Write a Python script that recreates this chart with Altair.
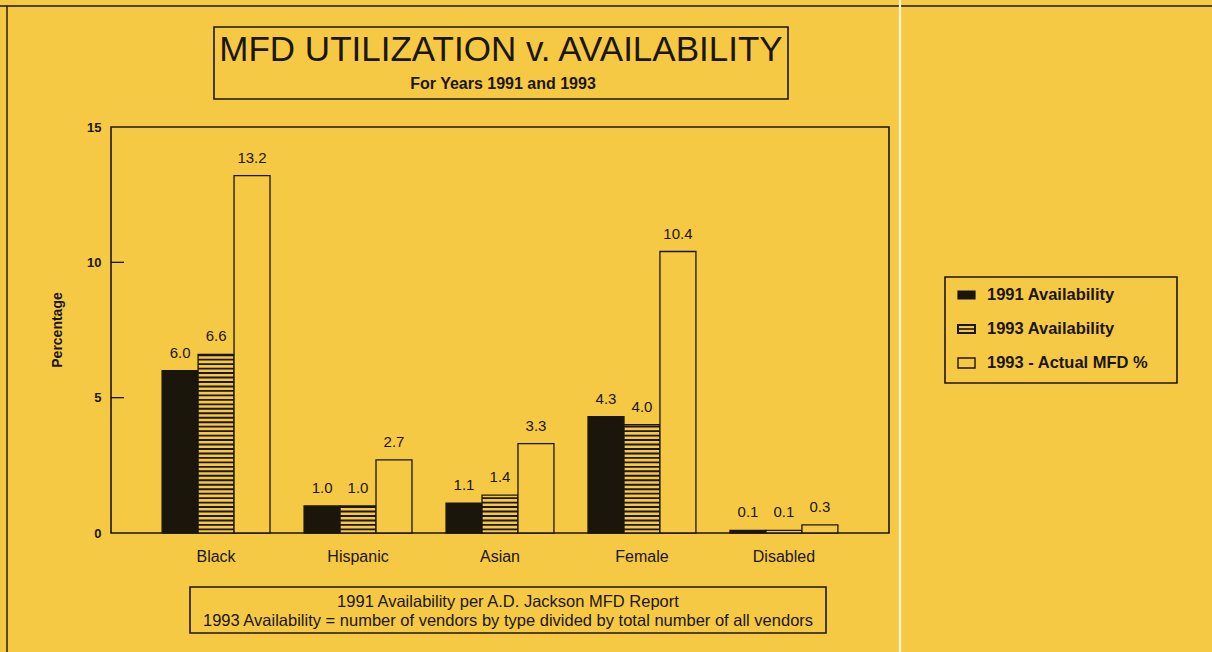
import altair as alt
import numpy as np
import pandas as pd

# --- data -------------------------------------------------------------
categories = ["Black", "Hispanic", "Asian", "Female", "Disabled"]
series = ["1991 Availability", "1993 Availability", "1993 - Actual MFD %"]
avail_1991 = [6.0, 1.0, 1.1, 4.3, 0.1]
avail_1993 = [6.6, 1.0, 1.4, 4.0, 0.1]
actual_1993 = [13.2, 2.7, 3.3, 10.4, 0.3]

title_text = "MFD UTILIZATION v. AVAILABILITY"
subtitle_text = "For Years 1991 and 1993"
note_lines = [
    "1991 Availability per A.D. Jackson MFD Report",
    "1993 Availability = number of vendors by type divided by total number of all vendors",
]

FONT = "Liberation Sans"
INK = "#1b160c"
PAPER = "#f6c944"

rows = []
for i, c in enumerate(categories):
    for s, vals in zip(series, [avail_1991, avail_1993, actual_1993]):
        rows.append({"category": c, "series": s, "value": vals[i]})
df = pd.DataFrame(rows)

# hatch lines for the striped 1993 availability bars
hatch_step, hatch_thick = 0.165, 0.07
stripe_rows = []
for c, v in zip(categories, avail_1993):
    for y in np.arange(hatch_step * 0.6, v - 0.04, hatch_step):
        stripe_rows.append({"category": c, "series": series[1], "y0": y, "y1": y + hatch_thick})
stripes = pd.DataFrame(stripe_rows)

x_enc = alt.X(
    "category:N",
    sort=categories,
    scale=alt.Scale(domain=categories, paddingInner=0.24, paddingOuter=0.36),
    axis=alt.Axis(
        title=None, labelAngle=0, labelFontSize=16, labelFont=FONT, labelColor=INK,
        labelPadding=15, tickSize=0, domain=False,
    ),
)
xo_enc = alt.XOffset("series:N", sort=series, scale=alt.Scale(domain=series, paddingInner=0, paddingOuter=0))
y_scale = alt.Scale(domain=[0, 15], nice=False, zero=True)

bars = alt.Chart(df).mark_bar(stroke=INK, strokeWidth=1.3).encode(
    x=x_enc,
    xOffset=xo_enc,
    y=alt.Y(
        "value:Q",
        scale=y_scale,
        axis=alt.Axis(
            title=None, values=[0, 5, 10, 15], grid=False, domain=False, tickSize=0,
            labelFontSize=13, labelFontWeight="bold", labelFont=FONT, labelColor=INK, labelPadding=10,
        ),
    ),
    fill=alt.Fill("series:N", scale=alt.Scale(domain=series, range=[INK, PAPER, PAPER]), legend=None),
)

hatch = alt.Chart(stripes).mark_bar(fill=INK).encode(
    x=alt.X("category:N", sort=categories),
    xOffset=alt.XOffset("series:N", sort=series),
    y=alt.Y("y0:Q", scale=y_scale),
    y2="y1:Q",
)

labels = alt.Chart(df).mark_text(
    dy=-10, fontSize=15, font=FONT, color=INK, baseline="bottom"
).encode(
    x=alt.X("category:N", sort=categories),
    xOffset=alt.XOffset("series:N", sort=series),
    y=alt.Y("value:Q", scale=y_scale),
    text=alt.Text("value:Q", format=".1f"),
)

# inward ticks on the value axis
ytick = alt.Chart(pd.DataFrame({"v": [5, 10]})).mark_rule(color=INK, strokeWidth=1.3).encode(
    y=alt.Y("v:Q", scale=y_scale), x=alt.value(0), x2=alt.value(13)
)

one = pd.DataFrame({"k": [0]})


def box(x0, x1, y0, y1, width=1.6):
    return alt.Chart(one).mark_rect(fill=None, stroke=INK, strokeWidth=width).encode(
        x=alt.value(x0), x2=alt.value(x1), y=alt.value(y0), y2=alt.value(y1)
    )


def txt(s, x, y, size, weight="normal", align="center", angle=0):
    kw = dict(fontSize=size, font=FONT, fontWeight=weight, color=INK, align=align, baseline="middle")
    if angle:
        kw["angle"] = angle
    return alt.Chart(one).mark_text(**kw).encode(x=alt.value(x), y=alt.value(y), text=alt.value(s))


def rule(x0, x1, y0, y1, color=INK, width=1.5):
    return alt.Chart(one).mark_rule(color=color, strokeWidth=width).encode(
        x=alt.value(x0), x2=alt.value(x1), y=alt.value(y0), y2=alt.value(y1)
    )


# page edge and fold
page = [
    rule(-111, 1101, -121, -121, width=1.4),
    rule(-104, -104, -121, 525, width=1.4),
    rule(789, 789, -127, 525, color="#fbf3d8", width=2.2),
]

# title block
title_block = [
    box(103, 677, -100, -28, width=1.6),
    txt(title_text, 390, -77, 35),
    txt(subtitle_text, 392, -43, 16, weight="bold"),
]

# y-axis title
ytitle = [txt("Percentage", -53, 203, 14, weight="bold", angle=270)]

# legend
leg_rows = [168, 202, 236]
legend = [box(834, 1066, 150, 256, width=1.6)]
legend.append(
    alt.Chart(one).mark_rect(fill=INK, stroke=INK, strokeWidth=1.2).encode(
        x=alt.value(847), x2=alt.value(864), y=alt.value(leg_rows[0] - 4), y2=alt.value(leg_rows[0] + 4)
    )
)
legend.append(box(847, 864, leg_rows[1] - 4, leg_rows[1] + 4, width=2))
legend.append(rule(847, 864, leg_rows[1], leg_rows[1], width=1.6))
legend.append(box(847, 864, leg_rows[2] - 5, leg_rows[2] + 5, width=1.4))
for s, yy in zip(series, leg_rows):
    legend.append(txt(s, 876, yy, 16.5, weight="bold", align="left"))

# footnote block
note = [
    box(79, 715, 460, 506, width=1.6),
    txt(note_lines[0], 397, 475, 16.5),
    txt(note_lines[1], 397, 494, 16.5),
]

chart = alt.layer(
    *page, bars, hatch, labels, ytick, *title_block, *ytitle, *legend, *note
).properties(
    width=778,
    height=406,
    background=PAPER,
    padding={"left": 111, "top": 127, "right": 323, "bottom": 119},
    autosize=alt.AutoSizeParams(type="none"),
).configure_view(
    stroke=INK, strokeWidth=1.6
)

chart.save("out.html", embed_options={"renderer": "svg", "actions": False})
